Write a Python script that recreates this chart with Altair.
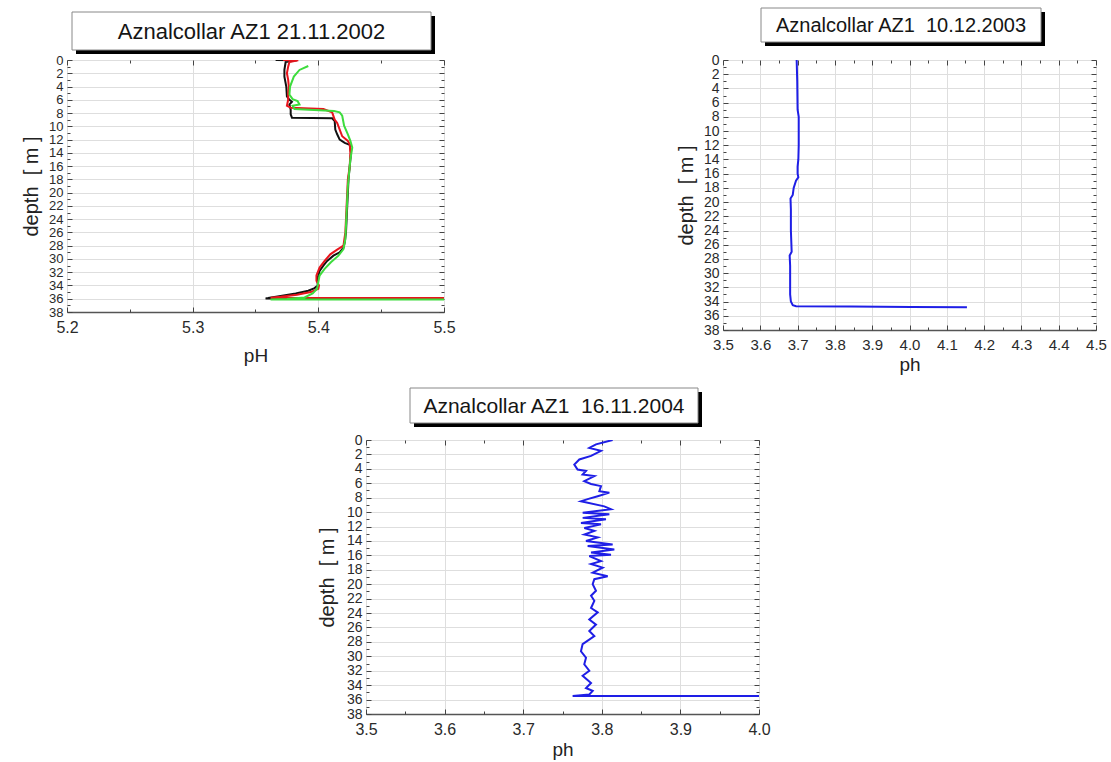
import altair as alt
import pandas as pd

FONT = "Liberation Sans"

# ---------------- Panel 1: Aznalcollar AZ1 21.11.2002 ----------------
p1_title = "Aznalcollar AZ1 21.11.2002"
p1_xticks = [5.2, 5.3, 5.4, 5.5]
p1_xminor = [5.25, 5.35, 5.45]

p1_black_depth = [0.0, 0.05, 0.3, 1.5, 2.5, 4.0, 5.5, 6.0, 6.3, 6.7, 7.5, 8.2, 8.7, 8.8, 9.2,
                  10.5, 11.2, 12.0, 12.5, 12.8, 14.0, 16.0, 18.0, 20.0, 22.0, 24.0, 26.0, 27.5,
                  28.3, 29.0, 29.5, 30.3, 31.0, 31.8, 32.8, 34.0, 34.4, 34.8, 35.2, 35.6, 35.9,
                  35.95, 35.95]
p1_black_ph = [5.366, 5.383, 5.374, 5.373, 5.373, 5.3745, 5.375, 5.377, 5.379, 5.377, 5.378,
               5.378, 5.379, 5.411, 5.413, 5.4135, 5.415, 5.417, 5.421, 5.425, 5.426, 5.425,
               5.424, 5.4235, 5.423, 5.4225, 5.422, 5.421, 5.420, 5.417, 5.412, 5.407, 5.404,
               5.401, 5.3995, 5.3995, 5.397, 5.392, 5.382, 5.370, 5.360, 5.358, 5.52]

p1_red_depth = [0.0, 0.05, 0.3, 1.0, 2.0, 3.0, 4.0, 5.0, 6.0, 6.9, 7.2, 7.4, 7.9, 9.0, 9.5,
                10.5, 11.5, 12.2, 12.7, 14.0, 16.0, 18.0, 20.0, 22.0, 24.0, 26.0, 28.0, 28.6,
                29.3, 30.3, 31.3, 32.5, 33.3, 34.0, 34.5, 35.0, 35.4, 35.7, 35.85, 35.9]
p1_red_ph = [5.372, 5.384, 5.377, 5.376, 5.375, 5.376, 5.3765, 5.376, 5.376, 5.375, 5.378,
             5.404, 5.411, 5.413, 5.415, 5.417, 5.419, 5.4235, 5.425, 5.4255, 5.425, 5.4235,
             5.423, 5.4225, 5.422, 5.4215, 5.420, 5.415, 5.4095, 5.405, 5.401, 5.3985, 5.3985,
             5.4005, 5.400, 5.394, 5.383, 5.370, 5.362, 5.52]

p1_green_depth = [0.9, 1.5, 2.5, 4.0, 5.2, 5.9, 6.2, 6.7, 6.9, 7.4, 7.7, 7.9, 8.4, 9.9, 11.2,
                  12.2, 13.2, 15.0, 17.0, 19.0, 21.0, 23.0, 25.0, 27.0, 28.5, 29.5, 30.5, 31.5,
                  32.5, 33.5, 34.5, 35.2, 35.8, 36.05, 36.1, 36.1]
p1_green_ph = [5.392, 5.385, 5.3805, 5.3775, 5.377, 5.3795, 5.3835, 5.385, 5.3795, 5.381,
               5.4125, 5.417, 5.419, 5.4205, 5.4235, 5.4255, 5.427, 5.4255, 5.4245, 5.4235,
               5.423, 5.4225, 5.422, 5.4215, 5.420, 5.416, 5.410, 5.405, 5.401, 5.400, 5.399,
               5.3955, 5.389, 5.375, 5.362, 5.52]

# ---------------- Panel 2: Aznalcollar AZ1 10.12.2003 ----------------
p2_title = "Aznalcollar AZ1\u00a0 10.12.2003"
p2_xticks = [3.5, 3.6, 3.7, 3.8, 3.9, 4.0, 4.1, 4.2, 4.3, 4.4, 4.5]
p2_xminor = [3.55, 3.65, 3.75, 3.85, 3.95, 4.05, 4.15, 4.25, 4.35, 4.45]
p2_depth = [0, 3, 7, 8, 10, 12, 14, 15, 16, 16.5, 17, 18, 19, 19.5, 21, 24, 27, 27.5, 29, 31,
            33, 34, 34.5, 34.65, 34.7, 34.75, 34.8]
p2_ph = [3.6975, 3.699, 3.700, 3.703, 3.703, 3.703, 3.702, 3.700, 3.700, 3.702, 3.6957, 3.6895,
         3.687, 3.681, 3.682, 3.682, 3.6841, 3.6787, 3.680, 3.680, 3.680, 3.682, 3.687, 3.696,
         3.843, 4.004, 4.154]

# ---------------- Panel 3: Aznalcollar AZ1 16.11.2004 ----------------
p3_title = "Aznalcollar AZ1\u00a0 16.11.2004"
p3_xticks = [3.5, 3.6, 3.7, 3.8, 3.9, 4.0]
p3_xminor = [3.55, 3.65, 3.75, 3.85, 3.95]
p3_depth = [0.0, 0.6, 1.1, 1.5, 2.2, 2.7, 3.4, 4.1, 4.3, 4.8, 5.0, 5.7, 6.1, 6.4, 7.1, 7.3,
            7.8, 8.2, 8.5, 9.2,
            9.6, 10.1, 10.3, 10.8, 11.0, 11.5, 11.7, 12.2, 12.6, 13.1, 13.5, 14.0, 14.5, 14.7,
            15.2, 15.6, 15.9, 16.1, 16.8, 17.2, 17.7, 18.4, 18.9, 19.3, 20.0,
            20.9, 21.6, 22.3, 23.3, 23.9, 24.9, 25.6, 26.5, 27.2, 28.3, 29.3, 30.2, 31.1,
            32.0, 32.7, 33.7, 34.4, 34.8, 35.3, 35.5, 35.5]
p3_ph = [3.8138, 3.7926, 3.7841, 3.7990, 3.7863, 3.7714, 3.7650, 3.7692, 3.7799, 3.7756,
         3.7905, 3.7777, 3.7863, 3.7990, 3.7969, 3.8096, 3.7948, 3.7820, 3.7735, 3.8032,
         3.8117, 3.7757, 3.8096, 3.7757, 3.8053, 3.7735, 3.7990, 3.7778, 3.7905, 3.7778,
         3.7947, 3.7799, 3.8138, 3.7820, 3.8159, 3.7863, 3.8117, 3.7841, 3.7990, 3.7863,
         3.8011, 3.7884, 3.8075, 3.7905, 3.7884,
         3.7926, 3.7863, 3.7905, 3.7863, 3.7948, 3.7841, 3.7926, 3.7841, 3.7905, 3.7756,
         3.7735, 3.7799, 3.7777, 3.7841, 3.7756, 3.7863, 3.7799, 3.7884, 3.7841, 3.7629, 4.02]

depth_major = list(range(0, 39, 2))
depth_minor = list(range(1, 38, 2))


def line_df(depths, phs):
    return pd.DataFrame({"depth": depths, "ph": phs, "i": list(range(len(depths)))})


def panel(series, xdomain, xmajor, xminor, width, height, xtitle, title, box, title_size,
          xlab_size, ylab_size, xtitle_pad, ytitle_pad, extent_rects=()):
    xs = alt.Scale(domain=xdomain, nice=False, zero=False)
    ys = alt.Scale(domain=[0, 38], reverse=True, nice=False, zero=False)
    one = pd.DataFrame({"a": [0]})
    bx0, by0, bx1, by1 = box
    layers = []
    # invisible rectangles that fix the panel's extent inside the page layout
    for (rx0, ry0, rx1, ry1) in extent_rects:
        layers.append(alt.Chart(one).mark_rect(opacity=0).encode(
            x=alt.value(rx0), x2=alt.value(rx1), y=alt.value(ry0), y2=alt.value(ry1)))
    layers.append(alt.Chart(one).mark_rect(color="black").encode(
        x=alt.value(bx0 + 4), x2=alt.value(bx1 + 4), y=alt.value(by0 + 4), y2=alt.value(by1 + 4)))
    layers.append(alt.Chart(one).mark_rect(fill="white", stroke="#888888", strokeWidth=1).encode(
        x=alt.value(bx0), x2=alt.value(bx1), y=alt.value(by0), y2=alt.value(by1)))
    layers.append(alt.Chart(one).mark_text(font=FONT, fontSize=title_size, color="#151515",
                                           align="center", baseline="middle").encode(
        x=alt.value((bx0 + bx1) / 2), y=alt.value((by0 + by1) / 2 + 1), text=alt.value(title)))

    x_main = alt.Axis(orient="bottom", values=xmajor, format=".1f", grid=True,
                      gridColor="#dedede", gridWidth=1, ticks=False, domain=True,
                      domainColor="#555555", domainWidth=1.3, labelFont=FONT,
                      labelFontSize=xlab_size, labelColor="#2a2a2a", labelPadding=7,
                      labelFlush=False, labelOverlap=False, title=xtitle, titleFont=FONT,
                      titleFontSize=19, titleFontWeight="normal", titleColor="#222222",
                      titlePadding=xtitle_pad)
    y_main = alt.Axis(orient="left", values=depth_major, grid=True, gridColor="#dedede",
                      gridWidth=1, ticks=False, domain=False, labelFont=FONT,
                      labelFontSize=ylab_size, labelColor="#2a2a2a", labelPadding=4,
                      labelOverlap=False, labelFlush=False, title="depth\u00a0 [ m ]",
                      titleFont=FONT, titleFontSize=20, titleFontWeight="normal",
                      titleColor="#222222", titlePadding=ytitle_pad)

    first = True
    for df, col in series:
        layers.append(alt.Chart(df).mark_line(clip=True, strokeWidth=2, color=col).encode(
            x=alt.X("ph:Q", scale=xs, axis=x_main if first else None),
            y=alt.Y("depth:Q", scale=ys, axis=y_main if first else None),
            order=alt.Order("i:Q")))
        first = False

    anchor = pd.DataFrame({"ph": [xdomain[0]], "depth": [0]})

    def tick_axes(orient_x, orient_y, xv, yv, size):
        ax = alt.Axis(orient=orient_x, values=xv, labels=False, ticks=True, tickSize=size,
                      tickColor="#444444", tickWidth=1, offset=-size, domain=False,
                      grid=False, title=None)
        ay = alt.Axis(orient=orient_y, values=yv, labels=False, ticks=True, tickSize=size,
                      tickColor="#444444", tickWidth=1, offset=-size, domain=False,
                      grid=False, title=None)
        return alt.Chart(anchor).mark_point(opacity=0).encode(
            x=alt.X("ph:Q", scale=xs, axis=ax), y=alt.Y("depth:Q", scale=ys, axis=ay))

    layers.append(tick_axes("bottom", "left", xmajor, depth_major, 5))
    layers.append(tick_axes("bottom", "left", xminor, depth_minor, 3))
    layers.append(tick_axes("top", "right", xmajor, depth_major, 5))
    layers.append(tick_axes("top", "right", xminor, depth_minor, 3))

    return alt.layer(*layers).properties(width=width, height=height).resolve_axis(
        x="independent", y="independent")


p1 = panel([(line_df(p1_black_depth, p1_black_ph), "#111111"),
            (line_df(p1_red_depth, p1_red_ph), "#e8141c"),
            (line_df(p1_green_depth, p1_green_ph), "#3ddc3d")],
           [5.2, 5.5], p1_xticks, p1_xminor, 377, 252, "pH", p1_title,
           (5, -48, 364, -10), 22, 16, 13, 11, 7,
           extent_rects=[(-66, -59, 0, 0)])

p2 = panel([(line_df(p2_depth, p2_ph), "#1e1ee6")],
           [3.5, 4.5], p2_xticks, p2_xminor, 373, 270, "ph", p2_title,
           (38, -52, 318, -18), 20, 15, 14, 3, 7,
           extent_rects=[(0, 270, 10, 320)])

p3 = panel([(line_df(p3_depth, p3_ph), "#1e1ee6")],
           [3.5, 4.0], p3_xticks, p3_xminor, 393, 274, "ph", p3_title,
           (44, -52, 332, -17), 21, 16, 14, 3, 9,
           extent_rects=[(-10, -58, 0, 0)])

spacer = alt.Chart(pd.DataFrame({"a": [0]})).mark_point(opacity=0).encode(
    x=alt.value(0), y=alt.value(0)).properties(
    width=20, height=10, view=alt.ViewBackground(strokeOpacity=0))

top_row = alt.hconcat(p1, p2, spacing=279, bounds="flush")
bottom_row = alt.hconcat(spacer, p3, spacing=279, bounds="flush")

chart = alt.vconcat(top_row, bottom_row, spacing=0).properties(
    padding=0, background="white"
).configure_view(stroke="#8a8a8a", strokeWidth=1)

chart.save("out.html", embed_options={"renderer": "svg", "actions": False})
